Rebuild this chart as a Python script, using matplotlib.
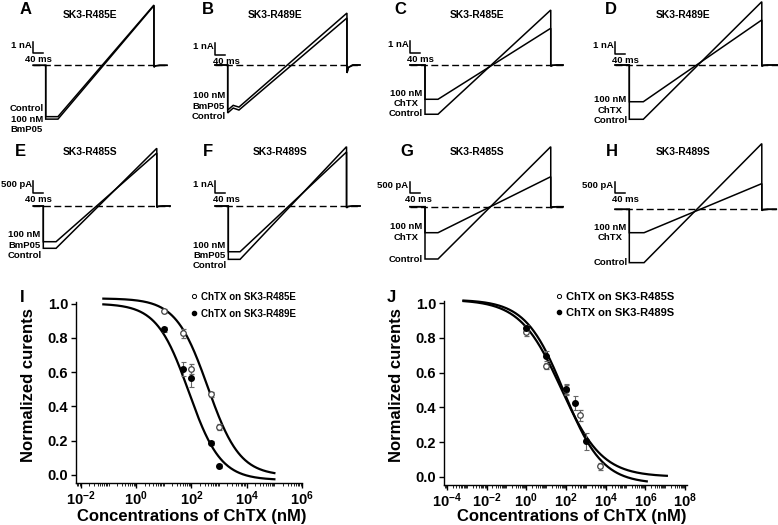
import numpy as np
import matplotlib.pyplot as plt
from matplotlib.lines import Line2D
from matplotlib.ticker import FixedLocator, LogLocator, FuncFormatter, NullFormatter

plt.rcParams['font.family'] = 'Liberation Sans'
plt.rcParams['font.weight'] = 'bold'
plt.rcParams['mathtext.fontset'] = 'custom'
plt.rcParams['mathtext.rm'] = 'Liberation Sans:bold'
plt.rcParams['mathtext.it'] = 'Liberation Sans:bold'
plt.rcParams['mathtext.bf'] = 'Liberation Sans:bold'

W, H = 778, 525

# ===== TRACE DATA (A-H) =====
panel_ids = ['A', 'B', 'C', 'D', 'E', 'F', 'G', 'H']
titles = ['SK3-R485E', 'SK3-R489E', 'SK3-R485E', 'SK3-R489E',
          'SK3-R485S', 'SK3-R489S', 'SK3-R485S', 'SK3-R489S']
scale_text = ['1 nA', '1 nA', '1 nA', '1 nA', '500 pA', '1 nA', '500 pA', '500 pA']
scale_val = [1, 1, 1, 1, 500, 1, 500, 500]
ramp_start = [49, 45, 52, 56, 51, 47, 52, 59]        # ms after step
ramp_end = [433, 477, 503, 530, 454, 473, 503, 530]
trace_end = [485, 529, 552, 602, 507, 527, 552, 588]
ctrl_step = [-4.39, -4.10, -4.21, -4.64, -1808, -4.56, -2235, -2280]
ctrl_peak = [5.15, 4.02, 4.70, 5.41, 2466, 5.07, 2564, 2808]
tox_step = [-4.60, -3.85, -2.93, -3.14, -1526, -3.91, -1111, -1000]
tox_peak = [5.10, 4.44, 3.14, 3.85, 2265, 4.62, 1282, 1098]
tail_dip = [-0.15, -0.68, -0.1, -0.1, -50, -0.15, -50, -50]
# panel B shows a small relaxation right after the step
ctrl_hump = [None, -3.68, None, None, None, None, None, None]
tox_hump = [None, -3.45, None, None, None, None, None, None]
ctrl_ramp0 = [-4.39, -3.85, -4.21, -4.64, -1808, -4.56, -2235, -2280]
tox_ramp0 = [-4.60, -3.60, -2.93, -3.14, -1526, -3.91, -1111, -1000]

trace_labels = [
    ['Control\n100 nM\nBmP05'],
    ['100 nM\nBmP05\nControl'],
    ['100 nM\nChTX', 'Control'],
    ['100 nM\nChTX', 'Control'],
    ['100 nM\nBmP05\nControl'],
    ['100 nM\nBmP05\nControl'],
    ['100 nM\nChTX', 'Control'],
    ['100 nM\nChTX', 'Control'],
]

# ===== DOSE-RESPONSE DATA (I, J) =====
i_conc_open = [10, 50, 100, 500, 1000]
i_open = [0.956, 0.826, 0.616, 0.47, 0.28]
i_open_err = [0.012, 0.025, 0.03, 0.015, 0.02]
i_conc_fill = [10, 50, 100, 500, 1000]
i_fill = [0.85, 0.616, 0.564, 0.188, 0.054]
i_fill_err = [0.015, 0.04, 0.05, 0.012, 0.012]
i_fit_open = (1.03, -0.005, 2.59, 0.75)   # top, bottom, log IC50, hill
i_fit_fill = (1.0, -0.03, 1.9, 0.75)

j_conc_open = [1, 10, 100, 500, 5000]
j_open = [0.835, 0.638, 0.498, 0.354, 0.061]
j_open_err = [0.025, 0.015, 0.03, 0.03, 0.02]
j_conc_fill = [1, 10, 100, 300, 1000]
j_fill = [0.858, 0.696, 0.504, 0.427, 0.204]
j_fill_err = [0.015, 0.03, 0.03, 0.04, 0.05]
j_fit_open = (1.02, 0.0, 1.75, 0.42)
j_fit_fill = (1.02, -0.04, 1.9, 0.45)


def fpos(l, t, w, h):
    return [l / W, 1 - (t + h) / H, w / W, h / H]


def ftxt(x, y, s, **kw):
    fig.text(x / W, 1 - y / H, s, **kw)


def hill(x, p):
    top, bottom, logic50, n = p
    return bottom + (top - bottom) / (1 + (x / 10 ** logic50) ** n)


fig = plt.figure(figsize=(7.78, 5.25), dpi=100)

# ===== TRACES =====
MS_PX = 0.25
UNIT_PX = 11.7
step_px = [45.7, 227.7, 425, 629.3, 43.3, 228.3, 425, 629.3]
base_px = [65.3, 65, 65, 65, 206, 206, 206.7, 209.3]
bar_t = [-50, -51, -60, -57, -40, -53, -60, -57]
bar_lo = [1.03, 0.85, 1.03, 0.94, 1.1, 1.1, 1.15, 1.37]
ms_dx = [20, 45, 40, 40, 20, 45, 35, 40]
letter_xy = [(26, 9), (208, 9), (400, 9), (611, 9),
             (20, 152), (208, 152), (407, 152), (612, 152)]
title_xy = [(90, 15), (275, 15), (477, 15), (683, 15),
            (90, 152), (280, 152), (477, 152), (683, 152)]
label_y = [[119.3], [106.3], [98.3, 113.3], [105, 120.7],
           [245], [255.5], [232, 260], [232.5, 262.7]]

for i in range(8):
    s = scale_val[i]
    ax = fig.add_axes(fpos(step_px[i] - 70 * MS_PX, base_px[i] - 5.6 * UNIT_PX,
                           690 * MS_PX, 12 * UNIT_PX))
    ax.set_xlim(-70, 620)
    ax.set_ylim(-6.4 * s, 5.6 * s)
    ax.axis('off')

    ax.plot([bar_t[i], trace_end[i]], [0, 0], color='black', lw=1.0,
            ls=(0, (5, 2.5)), clip_on=False)

    re = ramp_end[i]
    for st, r0, hp, pk in [(ctrl_step[i], ctrl_ramp0[i], ctrl_hump[i], ctrl_peak[i]),
                           (tox_step[i], tox_ramp0[i], tox_hump[i], tox_peak[i])]:
        t = [bar_t[i], 0, 0]
        y = [0, 0, st]
        if hp is not None:
            t.append(22)
            y.append(hp)
        t += [ramp_start[i], re, re, re + 6, re + 24, trace_end[i]]
        y += [r0, pk, tail_dip[i], tail_dip[i] * 0.3, 0, 0]
        ax.plot(t, y, color='black', lw=1.1, clip_on=False, solid_joinstyle='miter')

    # scale bar
    lo = bar_lo[i] * s
    ax.plot([bar_t[i], bar_t[i], bar_t[i] + 40], [lo + s, lo, lo],
            color='black', lw=1.1, clip_on=False)
    ax.text(bar_t[i] - 6, lo + 0.7 * s, scale_text[i], ha='right', va='center',
            fontsize=6.8, fontweight='bold')
    ax.text(bar_t[i] + ms_dx[i], lo - 0.52 * s, '40 ms', ha='center', va='center',
            fontsize=6.8, fontweight='bold')

    ftxt(*letter_xy[i], panel_ids[i], ha='center', va='center', fontsize=12, fontweight='bold')
    ftxt(*title_xy[i], titles[i], ha='center', va='center', fontsize=7.4, fontweight='bold')
    for txt, yy in zip(trace_labels[i], label_y[i]):
        ftxt(step_px[i] - 19, yy, txt, ha='center', va='center', fontsize=6.8,
             fontweight='bold', multialignment='center', linespacing=1.2)

# ===== DOSE-RESPONSE =====
def dose_panel(rect, xlog, ticks, data, fits, fit_ranges, leg_labels, leg_anchor, leg_fs,
               leg_space, ylab_xy, xlab_xy):
    ax = fig.add_axes(fpos(*rect))
    ax.set_xscale('log')
    ax.set_xlim(10 ** xlog[0], 10 ** xlog[1])
    ax.set_ylim(-0.047, 1.01)
    for sp in ['top', 'right']:
        ax.spines[sp].set_visible(False)
    for sp in ['left', 'bottom']:
        ax.spines[sp].set_linewidth(1.0)

    for p, (a, b) in zip(fits, fit_ranges):
        xx = np.logspace(a, b, 300)
        ax.plot(xx, hill(xx, p), color='black', lw=1.6, clip_on=False)

    (xo, yo, eo), (xf, yf, ef) = data
    ax.errorbar(xo, yo, yerr=eo, fmt='o', ms=4, mfc='white', mec='#444444', mew=0.9,
                ecolor='#666666', elinewidth=0.8, capsize=1.8, capthick=0.8, clip_on=False)
    ax.errorbar(xf, yf, yerr=ef, fmt='o', ms=4, mfc='black', mec='black',
                ecolor='#666666', elinewidth=0.8, capsize=1.8, capthick=0.8, clip_on=False)

    ax.xaxis.set_major_locator(FixedLocator([10.0 ** k for k in ticks]))
    ax.xaxis.set_major_formatter(FuncFormatter(
        lambda v, pos: r'$\mathbf{10^{%d}}$' % int(round(np.log10(v)))))
    ax.xaxis.set_minor_locator(LogLocator(base=10, subs=np.arange(1, 10), numticks=200))
    ax.xaxis.set_minor_formatter(NullFormatter())
    ax.set_yticks([0.0, 0.2, 0.4, 0.6, 0.8, 1.0])
    ax.set_yticklabels(['0.0', '0.2', '0.4', '0.6', '0.8', '1.0'])
    ax.tick_params(which='major', direction='out', length=3.5, width=1.0, labelsize=10.5, pad=2)
    ax.tick_params(axis='x', which='major', pad=1)
    ax.tick_params(which='minor', direction='out', length=2, width=0.6)
    for lab in ax.get_xticklabels() + ax.get_yticklabels():
        lab.set_fontweight('bold')

    ax.set_ylabel('Normalized curents', fontsize=12, fontweight='bold', va='center', ha='center')
    ax.yaxis.set_label_coords(*ylab_xy)
    ax.set_xlabel('Concentrations of ChTX (nM)', fontsize=12, fontweight='bold',
                  va='center', ha='center')
    ax.xaxis.set_label_coords(*xlab_xy)

    handles = [Line2D([], [], ls='none', marker='o', ms=3, mfc='white', mec='black', mew=0.7),
               Line2D([], [], ls='none', marker='o', ms=3, mfc='black', mec='black')]
    ax.legend(handles, leg_labels, loc='upper left', bbox_to_anchor=leg_anchor,
              bbox_transform=fig.transFigure, frameon=False,
              handlelength=0.5, handletextpad=0.4, labelspacing=leg_space, borderpad=0,
              borderaxespad=0, prop={'weight': 'bold', 'size': leg_fs})
    return ax


axI = dose_panel((76, 301.8, 226, 181.2), (-2.18, 6.0), [-2, 0, 2, 4, 6],
                 [(i_conc_open, i_open, i_open_err), (i_conc_fill, i_fill, i_fill_err)],
                 [i_fit_open, i_fit_fill], [(-1.19, 5.0), (-1.19, 5.0)],
                 ['ChTX on SK3-R485E', 'ChTX on SK3-R489E'], (192 / W, 1 - 291.5 / H), 7.0,
                 0.75, (-0.212, 0.54), (0.513, -0.186))
axJ = dose_panel((444, 301.3, 242.7, 183.7), (-4.14, 8.08), [-4, -2, 0, 2, 4, 6, 8],
                 [(j_conc_open, j_open, j_open_err), (j_conc_fill, j_fill, j_fill_err)],
                 [j_fit_open, j_fit_fill], [(-3.16, 7.08), (-3.16, 6.07)],
                 ['ChTX on SK3-R485S', 'ChTX on SK3-R489S'], (556 / W, 1 - 292 / H), 8.0,
                 0.5, (-0.194, 0.544), (0.527, -0.174))

ftxt(22, 297, 'I', ha='center', va='center', fontsize=12, fontweight='bold')
ftxt(391, 297, 'J', ha='center', va='center', fontsize=12, fontweight='bold')

fig.savefig('out.png', dpi=100)
